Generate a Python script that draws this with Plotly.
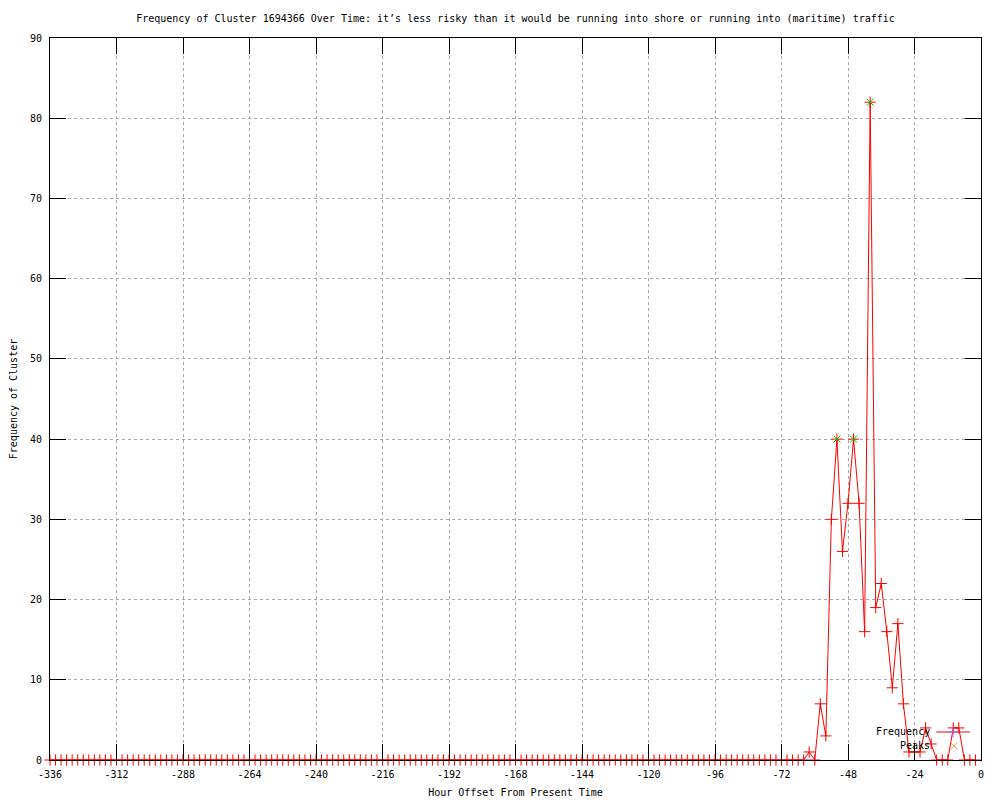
import plotly.graph_objects as go

# ---- data ----
hours = list(range(-336, 0, 2))  # every 2 hours, -336 .. -2
frequency = [
    0, 0, 0, 0, 0, 0, 0, 0, 0, 0, 0, 0, 0, 0, 0, 0, 0,
    0, 0, 0, 0, 0, 0, 0, 0, 0, 0, 0, 0, 0, 0, 0, 0, 0,
    0, 0, 0, 0, 0, 0, 0, 0, 0, 0, 0, 0, 0, 0, 0, 0, 0,
    0, 0, 0, 0, 0, 0, 0, 0, 0, 0, 0, 0, 0, 0, 0, 0, 0,
    0, 0, 0, 0, 0, 0, 0, 0, 0, 0, 0, 0, 0, 0, 0, 0, 0,
    0, 0, 0, 0, 0, 0, 0, 0, 0, 0, 0, 0, 0, 0, 0, 0, 0,
    0, 0, 0, 0, 0, 0, 0, 0, 0, 0, 0, 0, 0, 0, 0, 0, 0,
    0, 0, 0, 0, 0, 0, 0, 0, 0, 0, 0, 0, 0, 0, 0, 0, 0,
    # -64 .. -2
    0, 1, 0, 7, 3, 30, 40, 26, 32, 40, 32, 16, 82, 19, 22, 16,
    9, 17, 7, 1, 1, 1, 4, 2, 0, 0, 0, 4, 4, 0, 0, 0,
]
peak_hours = [-52, -46, -40]
peak_values = [40, 40, 82]

x_tick_vals = [-336, -312, -288, -264, -240, -216, -192, -168, -144, -120, -96, -72, -48, -24, 0]
x_tick_text = ["-336", "-312", "-288", "-264", "-240", "-216", "-192", "-168", "-144",
               "-120", "-96", "-72", "-48", "-24", "0"]
y_tick_vals = [0, 10, 20, 30, 40, 50, 60, 70, 80, 90]

title_text = ("Frequency of Cluster 1694366 Over Time: it\u2019s less risky than it would be "
              "running into shore or running into (maritime) traffic")

RED = "#ff0000"
GREEN = "#00c000"
FONT = "DejaVu Sans Mono"

fig = go.Figure()

fig.add_trace(go.Scatter(
    x=hours, y=frequency, mode="lines+markers", name="Frequency",
    line=dict(color=RED, width=1),
    marker=dict(symbol="cross-thin-open", size=8, line=dict(color=RED, width=1), color=RED),
    cliponaxis=False, showlegend=False,
))
fig.add_trace(go.Scatter(
    x=peak_hours, y=peak_values, mode="markers", name="Peaks",
    marker=dict(symbol="x-thin-open", size=7, line=dict(color=GREEN, width=1), color=GREEN),
    cliponaxis=False, showlegend=False,
))

# gnuplot-style key (text left of sample) on an overlay axis in plot-fraction units
fig.add_trace(go.Scatter(
    x=[0.952, 0.970, 0.988], y=[0.0388, 0.0388, 0.0388], mode="lines",
    line=dict(color=RED, width=1), xaxis="x2", yaxis="y2", showlegend=False, hoverinfo="skip",
))
fig.add_trace(go.Scatter(
    x=[0.970], y=[0.0388], mode="markers",
    marker=dict(symbol="cross-thin-open", size=8, line=dict(color=RED, width=1)),
    xaxis="x2", yaxis="y2", showlegend=False, hoverinfo="skip",
))
fig.add_trace(go.Scatter(
    x=[0.971], y=[0.0194], mode="markers",
    marker=dict(symbol="x-thin-open", size=7, line=dict(color=GREEN, width=1)),
    xaxis="x2", yaxis="y2", showlegend=False, hoverinfo="skip",
))

axis_common = dict(
    showline=True, linecolor="black", linewidth=1, mirror="ticks",
    ticks="inside", ticklen=16, tickcolor="black", tickwidth=1,
    showgrid=True, gridcolor="#a8a8a8", gridwidth=1, griddash="dot",
    zeroline=False, automargin=False, ticklabelstandoff=5,
    tickfont=dict(family=FONT, size=10, color="black"),
)

# the page body has an 8px default margin, so the figure sits at (8, 8)
fig.update_layout(
    width=1000, height=800,
    margin=dict(l=42, r=27, t=30, b=48),
    paper_bgcolor="white", plot_bgcolor="white",
    font=dict(family=FONT, size=10, color="black"),
    title=dict(text=title_text, x=0.5, xref="paper", xanchor="center",
               y=0.9875, yanchor="middle", automargin=False,
               font=dict(family=FONT, size=10, color="black")),
    xaxis=dict(range=[-336, 0], tickvals=x_tick_vals, ticktext=x_tick_text,
               title=dict(text="Hour Offset From Present Time", standoff=9,
                          font=dict(family=FONT, size=10)),
               **axis_common),
    yaxis=dict(range=[0, 90], tickvals=y_tick_vals,
               title=dict(text="Frequency of Cluster", standoff=12,
                          font=dict(family=FONT, size=10)),
               **axis_common),
    xaxis2=dict(overlaying="x", range=[0, 1], visible=False),
    yaxis2=dict(overlaying="y", range=[0, 1], visible=False),
    annotations=[
        dict(text="Frequency", xref="paper", yref="paper", x=0.947, y=0.0388,
             xanchor="right", yanchor="middle", showarrow=False,
             font=dict(family=FONT, size=10, color="black")),
        dict(text="Peaks", xref="paper", yref="paper", x=0.947, y=0.0194,
             xanchor="right", yanchor="middle", showarrow=False,
             font=dict(family=FONT, size=10, color="black")),
    ],
)

fig.write_html("out.html")
